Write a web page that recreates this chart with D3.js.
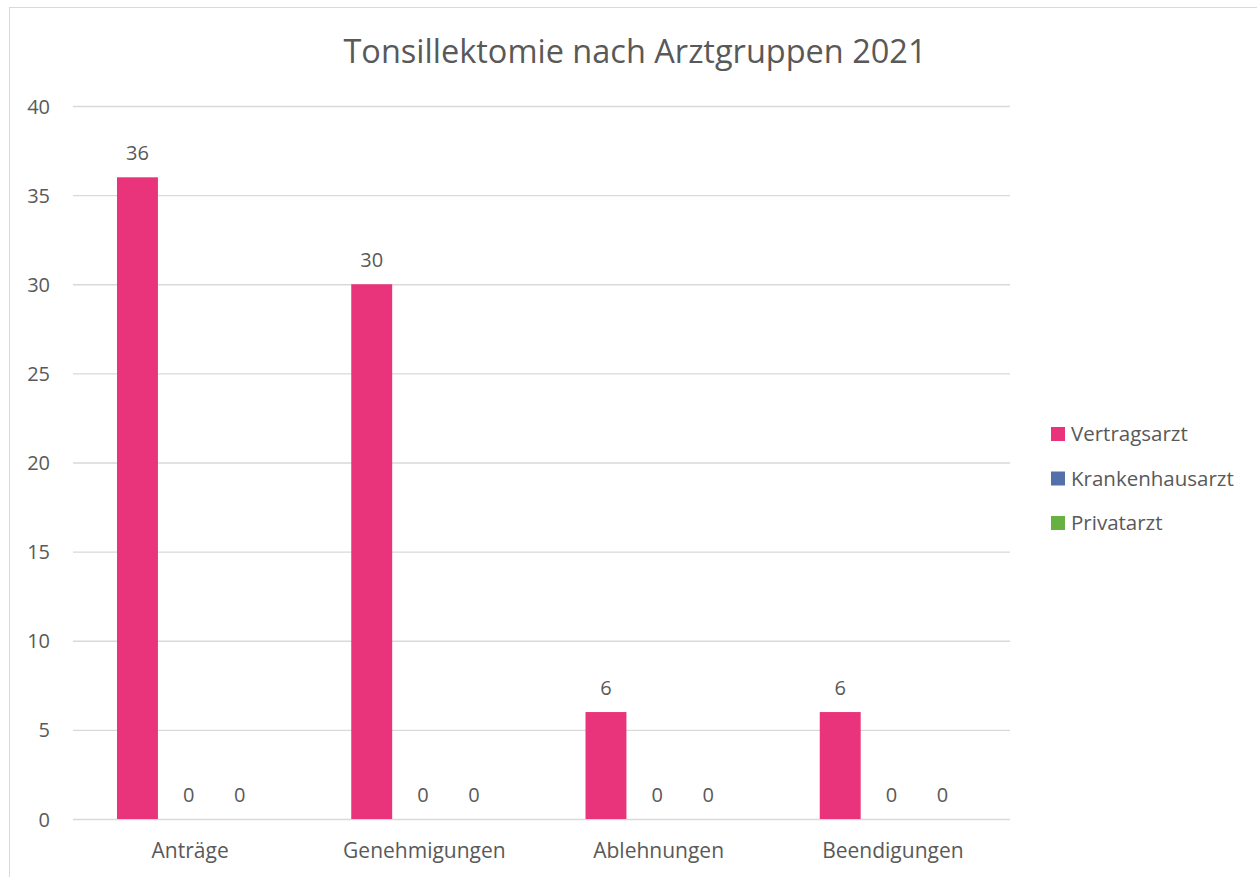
<!DOCTYPE html>
<html>
<head>
<meta charset="utf-8">
<script src="https://cdn.jsdelivr.net/npm/d3@7"></script>
<style>
  body { margin: 0; background: #fff; }
  text { font-family: "Open Sans", sans-serif; fill: #595959; }
</style>
</head>
<body>
<div id="chart"></div>
<script>
// Data
var categories = ["Anträge", "Genehmigungen", "Ablehnungen", "Beendigungen"];
var seriesNames = ["Vertragsarzt", "Krankenhausarzt", "Privatarzt"];
var vertragsarzt = [36, 30, 6, 6];
var krankenhausarzt = [0, 0, 0, 0];
var privatarzt = [0, 0, 0, 0];
var yTicks = [0, 5, 10, 15, 20, 25, 30, 35, 40];
var colors = ["#e9337a", "#5470aa", "#67b142"];

var seriesValues = [vertragsarzt, krankenhausarzt, privatarzt];

var svgWidth = 1257, svgHeight = 877;
var margins = { top: 106, bottom: 58, left: 73, right: 247 };
var height = svgHeight - margins.top - margins.bottom;
var width = svgWidth - margins.left - margins.right;

var svg = d3.select("#chart")
    .append("svg")
    .attr("width", svgWidth)
    .attr("height", svgHeight);

// chart border
svg.append("rect")
    .attr("x", 9.5).attr("y", 7.5)
    .attr("width", 1260).attr("height", 900)
    .attr("fill", "none")
    .attr("stroke", "#d9d9d9");

// title
svg.append("text")
    .attr("x", 635).attr("y", 63)
    .attr("text-anchor", "middle")
    .style("font-size", "32.5px")
    .text("Tonsillektomie nach Arztgruppen 2021");

var g = svg.append("g")
    .attr("transform", "translate(" + margins.left + "," + margins.top + ")");

var x0 = d3.scaleBand()
    .domain(categories)
    .range([0, width]);

var x1 = d3.scaleBand()
    .domain(seriesNames)
    .range([44, x0.bandwidth() - 47])
    .paddingInner(0.2);

var y = d3.scaleLinear()
    .domain([0, 40])
    .range([height, 0]);

// gridlines
g.append("g").selectAll("line")
    .data(yTicks)
    .join("line")
    .attr("x1", 0).attr("x2", width)
    .attr("y1", d => y(d) + 0.5).attr("y2", d => y(d) + 0.5)
    .attr("stroke", "#d9d9d9")
    .attr("stroke-width", 1.3);

// y axis labels
var yAxis = d3.axisLeft(y).tickValues(yTicks).tickSize(0).tickPadding(23);
var yg = g.append("g").call(yAxis);
yg.select(".domain").remove();
yg.selectAll("text").style("font-size", "20px").attr("fill", "#595959").attr("dy", "0.35em");

// x axis labels
var xAxis = d3.axisBottom(x0).tickSize(0).tickPadding(24);
var xg = g.append("g").attr("transform", "translate(0," + height + ")").call(xAxis);
xg.select(".domain").remove();
xg.selectAll("text").style("font-size", "21px").attr("fill", "#595959");

// bars
var groups = g.append("g").selectAll("g")
    .data(categories)
    .join("g")
    .attr("transform", d => "translate(" + x0(d) + ",0)");

groups.selectAll("rect")
    .data((d, i) => seriesNames.map((s, j) => ({ s: s, v: seriesValues[j][i], c: colors[j] })))
    .join("rect")
    .attr("x", d => x1(d.s))
    .attr("width", x1.bandwidth())
    .attr("y", d => y(d.v))
    .attr("height", d => height - y(d.v))
    .attr("fill", d => d.c);

// value labels
groups.selectAll("text.val")
    .data((d, i) => seriesNames.map((s, j) => ({ s: s, v: seriesValues[j][i] })))
    .join("text")
    .attr("class", "val")
    .attr("x", d => x1(d.s) + x1.bandwidth() / 2)
    .attr("y", d => y(d.v) - 17)
    .attr("text-anchor", "middle")
    .style("font-size", "20px")
    .text(d => d.v);

// legend
var legend = svg.append("g").selectAll("g")
    .data(seriesNames)
    .join("g")
    .attr("transform", (d, i) => "translate(1051," + (434 + i * 44.5) + ")");

legend.append("rect")
    .attr("x", 0).attr("y", -7)
    .attr("width", 14).attr("height", 14)
    .attr("fill", (d, i) => colors[i]);

legend.append("text")
    .attr("x", 20).attr("y", 0)
    .attr("dy", "0.35em")
    .style("font-size", "20.5px")
    .text(d => d);
</script>
</body>
</html>
